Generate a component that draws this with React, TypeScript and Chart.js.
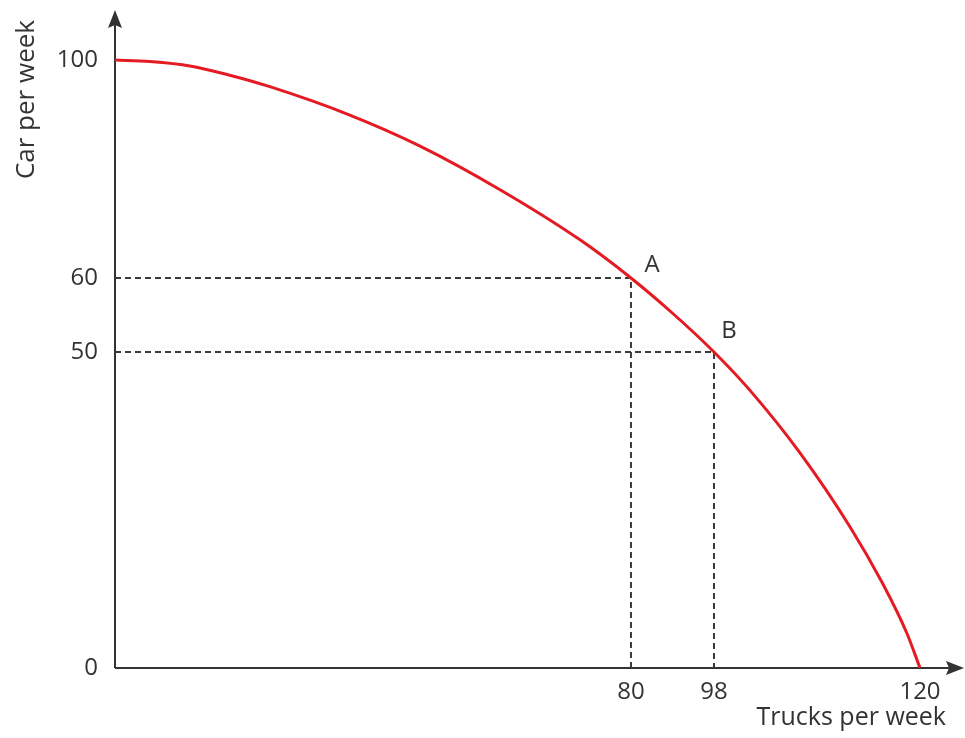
import React, { useEffect, useRef } from 'react';
import { Chart, registerables, LinearScale } from 'chart.js';

Chart.register(...registerables);

// ---- data ----
const X_TICKS = [80, 98, 120];
const Y_TICKS = [0, 50, 60, 100];
const POINT_LABELS = ['A', 'B'];
const POINT_X = [80, 98];
const POINT_Y = [60, 50];
const CURVE_X = [0, 5.4, 11.6, 17.8, 24.0, 36.4, 47.3, 59.7, 72.1, 80, 88.9, 98, 101.8, 107.2, 112.5, 116.0, 118.6, 120];
const CURVE_Y = [100, 99.7, 98.9, 97.2, 95.1, 89.9, 84.2, 76.2, 67.0, 60, 55.3, 50, 44.0, 34.0, 22.4, 13.4, 5.5, 0];
const X_TITLE = 'Trucks per week';
const Y_TITLE = 'Car per week';

// ---- axis layout (schematic, not to scale): [value, fraction of axis length] ----
const X_AXIS_LAYOUT: number[][] = [[0, 0], [80, 0.6209], [98, 0.7208], [120, 0.9687]];
const Y_AXIS_LAYOUT: number[][] = [[0, 0], [50, 0.4877], [60, 0.6019], [100, 0.9383]];

const FONT = '"Open Sans", "DejaVu Sans", sans-serif';
const TEXT = '#333333';
const RED = '#e41b23';

class BrokenLinearScale extends LinearScale {
  static id = 'brokenLinear';
  static defaults = LinearScale.defaults;
  anchors(): number[][] {
    return (this as any).axis === 'x' ? X_AXIS_LAYOUT : Y_AXIS_LAYOUT;
  }
  getPixelForValue(value: any) {
    if (value === null || value === undefined || isNaN(value)) return NaN;
    const a = this.anchors();
    let i = 0;
    while (i < a.length - 2 && value > a[i + 1][0]) i++;
    const f = a[i][1] + ((value - a[i][0]) / (a[i + 1][0] - a[i][0])) * (a[i + 1][1] - a[i][1]);
    return this.getPixelForDecimal(f);
  }
  getValueForPixel(pixel: number) {
    const f = this.getDecimalForPixel(pixel);
    const a = this.anchors();
    let i = 0;
    while (i < a.length - 2 && f > a[i + 1][1]) i++;
    return a[i][0] + ((f - a[i][1]) / (a[i + 1][1] - a[i][1])) * (a[i + 1][0] - a[i][0]);
  }
}
Chart.register(BrokenLinearScale as any);

const axesPlugin = {
  id: 'axesArrows',
  beforeDatasetsDraw(chart: any) {
    const { ctx, scales } = chart;
    const ox = scales.x.getPixelForValue(0);
    const oy = scales.y.getPixelForValue(0);
    const topY = 10;
    const rightX = chart.width - 1;
    ctx.save();
    ctx.strokeStyle = '#333';
    ctx.fillStyle = '#333';
    ctx.lineWidth = 2;
    ctx.beginPath();
    ctx.moveTo(ox, oy);
    ctx.lineTo(ox, topY + 12);
    ctx.moveTo(ox, oy);
    ctx.lineTo(rightX - 12, oy);
    ctx.stroke();
    ctx.beginPath();
    ctx.moveTo(ox, topY);
    ctx.lineTo(ox - 7, topY + 18);
    ctx.lineTo(ox, topY + 15);
    ctx.lineTo(ox + 7, topY + 18);
    ctx.closePath();
    ctx.fill();
    ctx.beginPath();
    ctx.moveTo(rightX, oy);
    ctx.lineTo(rightX - 18, oy - 7);
    ctx.lineTo(rightX - 15, oy);
    ctx.lineTo(rightX - 18, oy + 7);
    ctx.closePath();
    ctx.fill();
    ctx.restore();
  },
  afterDatasetsDraw(chart: any) {
    const { ctx } = chart;
    const offsets = [[21, -13], [15, -21]];
    ctx.save();
    ctx.fillStyle = TEXT;
    ctx.font = `24px ${FONT}`;
    ctx.textAlign = 'center';
    ctx.textBaseline = 'middle';
    POINT_LABELS.forEach((lab, i) => {
      const pt = chart.getDatasetMeta(i + 1).data[1];
      if (!pt) return;
      ctx.fillText(lab, pt.x + offsets[i][0], pt.y + offsets[i][1]);
    });
    ctx.restore();
  },
};

export default function App() {
  const ref = useRef<HTMLCanvasElement | null>(null);
  useEffect(() => {
    if (!ref.current) return;
    const guides = POINT_X.map((px, i) => ({
      data: [
        { x: 0, y: POINT_Y[i] },
        { x: px, y: POINT_Y[i] },
        { x: px, y: 0 },
      ],
      borderColor: '#3a3a3a',
      borderWidth: 2,
      borderDash: [6, 4],
      pointRadius: 0,
      tension: 0,
      fill: false,
    }));
    const chart = new Chart(ref.current, {
      type: 'line',
      data: {
        datasets: [
          {
            data: CURVE_X.map((x, i) => ({ x, y: CURVE_Y[i] })),
            borderColor: RED,
            borderWidth: 3,
            pointRadius: 0,
            cubicInterpolationMode: 'monotone',
            fill: false,
          } as any,
          ...guides,
        ],
      },
      options: {
        responsive: false,
        animation: false,
        layout: { padding: { top: 20, right: 19, left: 0, bottom: 0 } },
        plugins: { legend: { display: false }, tooltip: { enabled: false } },
        scales: {
          x: {
            type: 'brokenLinear' as any,
            min: 0,
            max: 122.8,
            grid: { display: false, drawTicks: false },
            border: { display: false },
            afterBuildTicks: (s: any) => {
              s.ticks = X_TICKS.map((v) => ({ value: v }));
            },
            afterFit: (s: any) => {
              s.height = 70;
              s.paddingLeft = 0;
              s.paddingRight = 0;
            },
            ticks: {
              padding: 10,
              color: TEXT,
              font: { family: FONT, size: 24 },
              autoSkip: false,
              maxRotation: 0,
              callback: (v: any) => String(v),
            },
            title: {
              display: true,
              text: X_TITLE,
              align: 'end',
              color: TEXT,
              font: { family: FONT, size: 25 },
              padding: { top: 0, bottom: 5 },
            },
          },
          y: {
            type: 'brokenLinear' as any,
            min: 0,
            max: 107,
            grid: { display: false, drawTicks: false },
            border: { display: false },
            afterBuildTicks: (s: any) => {
              s.ticks = Y_TICKS.map((v) => ({ value: v }));
            },
            afterFit: (s: any) => {
              s.width = 115;
              s.paddingTop = 0;
              s.paddingBottom = 0;
            },
            ticks: {
              padding: 17,
              color: TEXT,
              font: { family: FONT, size: 24 },
              autoSkip: false,
              callback: (v: any) => String(v),
            },
            title: {
              display: true,
              text: Y_TITLE,
              align: 'end',
              color: TEXT,
              font: { family: FONT, size: 26 },
              padding: { top: 11, bottom: 0 },
            },
          },
        },
      } as any,
      plugins: [axesPlugin],
    });
    return () => chart.destroy();
  }, []);
  return (
    <div style={{ position: 'absolute', left: 0, top: 0, width: 965, height: 738, background: '#fff' }}>
      <canvas ref={ref} width={965} height={738} style={{ display: 'block' }} />
    </div>
  );
}
